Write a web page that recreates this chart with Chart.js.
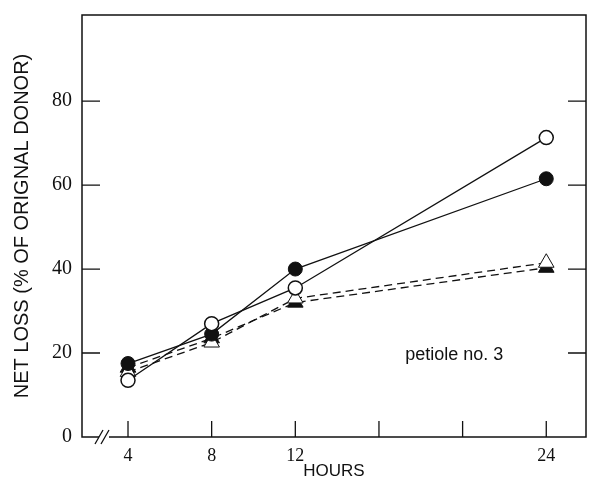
<!DOCTYPE html>
<html>
<head>
<meta charset="utf-8">
<script src="https://cdn.jsdelivr.net/npm/chart.js@4.4.0/dist/chart.umd.min.js"></script>
<style>
  html, body { margin: 0; padding: 0; background: #fff; }
  #wrap { width: 589px; height: 484px; }
</style>
</head>
<body>
<div id="wrap"><canvas id="myChart" width="589" height="484"></canvas></div>
<script>
// hours sampled
var hours = [4, 8, 12, 24];
// net loss, % of original donor
var openCircle = [13.5, 27, 35.5, 71.3];
var filledCircle = [17.5, 24.5, 40, 61.5];
var openTriangle = [15.5, 22.5, 33, 41.5];
var filledTriangle = [16.5, 23.5, 32, 40.3];

var xTicks = [4, 8, 12, 16, 20, 24];
var xLabels = ["4", "8", "12", "", "", "24"];
var yTicks = [0, 20, 40, 60, 80];
var noteText = "petiole no. 3";

function pts(ys) {
  return hours.map(function (h, i) {
    return { x: h, y: ys[i] };
  });
}

function noPad(scale) {
  scale.paddingTop = 0;
  scale.paddingBottom = 0;
  scale.paddingLeft = 0;
  scale.paddingRight = 0;
}

// frame, inward ticks, axis break and note
var framePlugin = {
  id: "frame",
  afterDraw: function (chart) {
    var ctx = chart.ctx;
    var a = chart.chartArea;
    var xs = chart.scales.x;
    var ys = chart.scales.y;
    ctx.save();
    ctx.strokeStyle = "#111";
    ctx.lineWidth = 1.5;
    ctx.strokeRect(a.left, a.top, a.right - a.left, a.bottom - a.top);
    ctx.lineWidth = 1.3;
    ctx.beginPath();
    xTicks.forEach(function (v) {
      var px = xs.getPixelForValue(v);
      ctx.moveTo(px, a.bottom);
      ctx.lineTo(px, a.bottom - 16);
    });
    yTicks.forEach(function (v) {
      if (v === 0) return;
      var py = ys.getPixelForValue(v);
      ctx.moveTo(a.left, py);
      ctx.lineTo(a.left + 18, py);
      ctx.moveTo(a.right, py);
      ctx.lineTo(a.right - 18, py);
    });
    ctx.stroke();

    // axis break
    var bx = a.left + 22;
    ctx.fillStyle = "#fff";
    ctx.fillRect(bx - 5, a.bottom - 2, 10, 4);
    ctx.beginPath();
    ctx.moveTo(bx - 9, a.bottom + 7);
    ctx.lineTo(bx - 1, a.bottom - 7);
    ctx.moveTo(bx - 3, a.bottom + 7);
    ctx.lineTo(bx + 5, a.bottom - 7);
    ctx.stroke();

    ctx.fillStyle = "#111";
    ctx.font = "18px 'Liberation Sans'";
    ctx.textAlign = "center";
    ctx.textBaseline = "middle";
    ctx.fillText(noteText, xs.getPixelForValue(19.6), ys.getPixelForValue(19.6));
    ctx.restore();
  },
};

var canvas = document.getElementById("myChart");
var chart = new Chart(canvas, {
  type: "line",
  data: {
    datasets: [
      {
        data: pts(openCircle),
        borderColor: "#111",
        borderWidth: 1.3,
        pointStyle: "circle",
        pointRadius: 7,
        pointBackgroundColor: "#fff",
        pointBorderColor: "#111",
        pointBorderWidth: 1.5,
      },
      {
        data: pts(filledCircle),
        borderColor: "#111",
        borderWidth: 1.3,
        pointStyle: "circle",
        pointRadius: 7,
        pointBackgroundColor: "#111",
        pointBorderColor: "#111",
        pointBorderWidth: 1,
      },
      {
        data: pts(openTriangle),
        borderColor: "#111",
        borderWidth: 1.3,
        borderDash: [8, 5],
        pointStyle: "triangle",
        pointRadius: 9,
        pointBackgroundColor: "#fff",
        pointBorderColor: "#111",
        pointBorderWidth: 1,
      },
      {
        data: pts(filledTriangle),
        borderColor: "#111",
        borderWidth: 1.3,
        borderDash: [8, 5],
        pointStyle: "triangle",
        pointRadius: 9,
        pointBackgroundColor: "#111",
        pointBorderColor: "#111",
        pointBorderWidth: 1,
      },
    ],
  },
  options: {
    responsive: false,
    animation: false,
    layout: { autoPadding: false, padding: { top: 15, right: 3, left: 0, bottom: 0 } },
    plugins: { legend: { display: false }, tooltip: { enabled: false } },
    scales: {
      x: {
        type: "linear",
        min: 1.8,
        max: 25.9,
        afterBuildTicks: function (scale) {
          scale.ticks = xTicks.map(function (v) { return { value: v }; });
        },
        afterFit: function (scale) {
          scale.height = 47;
          noPad(scale);
        },
        grid: { display: false },
        border: { display: false },
        ticks: {
          color: "#111",
          padding: 0,
          font: { family: "Liberation Serif", size: 18 },
          callback: function (v) {
            return xLabels[xTicks.indexOf(v)];
          },
        },
        title: {
          display: true,
          text: "HOURS",
          color: "#111",
          padding: { top: 0, bottom: 2 },
          font: { family: "Liberation Sans", size: 17 },
        },
      },
      y: {
        min: 0,
        max: 100.5,
        afterBuildTicks: function (scale) {
          scale.ticks = yTicks.map(function (v) { return { value: v }; });
        },
        afterFit: function (scale) {
          scale.width = 82;
          noPad(scale);
        },
        grid: { display: false },
        border: { display: false },
        ticks: {
          color: "#111",
          padding: 2,
          font: { family: "Liberation Serif", size: 20 },
        },
        title: {
          display: true,
          text: "NET LOSS (% OF ORIGNAL DONOR)",
          color: "#111",
          padding: { top: 10, bottom: 8 },
          font: { family: "Liberation Sans", size: 20 },
        },
      },
    },
  },
  plugins: [framePlugin],
});
</script>
</body>
</html>
